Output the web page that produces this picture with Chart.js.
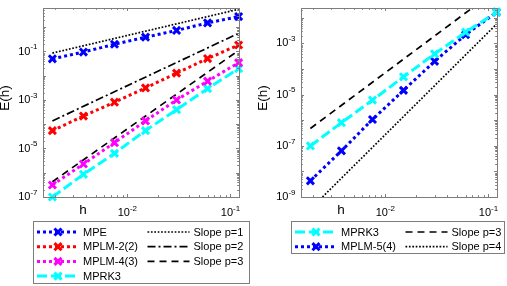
<!DOCTYPE html>
<html>
<head>
<meta charset="utf-8">
<script src="https://cdn.jsdelivr.net/npm/chart.js@4/dist/chart.umd.min.js"></script>
<style>
  body { margin: 0; background: #fff; }
  #wrap { position: relative; width: 507px; height: 286px; overflow: hidden; }
  canvas { position: absolute; top: 0; }
</style>
</head>
<body>
<div id="wrap">
  <canvas id="leftChart" width="253" height="286" style="left:0"></canvas>
  <canvas id="rightChart" width="254" height="286" style="left:253px"></canvas>
</div>
<script>
// step sizes h (same for both panels)
const hVals = [0.001875, 0.00375, 0.0075, 0.015, 0.03, 0.06, 0.12];
const hEnds = [0.001875, 0.12];

// left panel errors
const errMPE = [0.0497, 0.0946, 0.198, 0.387, 0.738, 1.5, 2.75];
const errMPLM22 = [5.45e-5, 2.17e-4, 8.1e-4, 3.13e-3, 0.0128, 0.051, 0.185];
const errMPLM43 = [3.13e-7, 2.29e-6, 1.74e-5, 1.37e-4, 1.0e-3, 5.97e-3, 0.0344];
const errMPRK3L = [1.0e-7, 8.6e-7, 6.3e-6, 5.45e-5, 3.98e-4, 2.94e-3, 0.0198];
// left panel reference slopes (values at hEnds)
const slopeL1 = [0.086, 5.5];
const slopeL2 = [1.37e-4, 0.561];
const slopeL3 = [4.25e-7, 0.111];

// right panel errors
const errMPRK3R = [9.9e-8, 8.0e-7, 6.1e-6, 4.98e-5, 3.9e-4, 2.75e-3, 0.0168];
const errMPLM54 = [4.3e-9, 6.4e-8, 1.07e-6, 1.47e-5, 2.0e-4, 2.19e-3, 0.0168];
const slopeR3 = [4.77e-7, 0.125];
const slopeR4 = [3.4e-10, 5.73e-3];

// tick labels (exponents of 10)
const xLabelExps = [-2, -1];
const yLabelExpsL = [-7, -5, -3, -1];
const yLabelExpsR = [-9, -7, -5, -3];

const FONT = '"Liberation Sans", Arial, Helvetica, sans-serif';
const AXIS_COLOR = 'rgb(125,125,125)';

function pts(xs, ys) {
  return xs.map((x, i) => ({ x: x, y: ys[i] }));
}

function series(label, xs, ys, color, dash) {
  return {
    label: label, data: pts(xs, ys),
    borderColor: color, backgroundColor: color,
    borderWidth: 3, borderDash: dash,
    pointStyle: 'crossRot', pointRadius: 5, pointBorderWidth: 3,
    pointBorderColor: color, clip: false
  };
}

function slope(label, ys, dash) {
  return {
    label: label, data: pts(hEnds, ys),
    borderColor: '#000', borderWidth: 1.7, borderDash: dash,
    pointRadius: 0
  };
}

function drawPow(ctx, exp, x, y, align) {
  ctx.font = '11px ' + FONT;
  const wb = ctx.measureText('10').width;
  ctx.font = '8px ' + FONT;
  const we = ctx.measureText(String(exp)).width;
  const total = wb + we;
  let sx = align === 'right' ? x - total : x - total / 2;
  ctx.textAlign = 'left';
  ctx.textBaseline = 'middle';
  ctx.fillStyle = '#000';
  ctx.font = '11px ' + FONT;
  ctx.fillText('10', sx, y);
  ctx.font = '8px ' + FONT;
  ctx.fillText(String(exp), sx + wb, y - 4.5);
}

// MATLAB-like box, inward ticks, labels and legend
const matlabAxes = {
  id: 'matlabAxes',
  afterDraw(chart, args, opts) {
    const ctx = chart.ctx;
    const a = chart.chartArea;
    const xs = chart.scales.x, ys = chart.scales.y;
    ctx.save();

    // ticks
    ctx.strokeStyle = AXIS_COLOR;
    ctx.lineWidth = 1;
    ctx.beginPath();
    const tickSet = (scale, fn) => {
      const e0 = Math.floor(Math.log10(scale.min)), e1 = Math.ceil(Math.log10(scale.max));
      for (let e = e0; e <= e1; e++) {
        for (let m = 1; m <= 9; m++) {
          const v = m * Math.pow(10, e);
          if (v < scale.min || v > scale.max) continue;
          fn(Math.round(scale.getPixelForValue(v)) + 0.5, m === 1 ? 3 : 1.8);
        }
      }
    };
    tickSet(xs, (px, len) => {
      ctx.moveTo(px, a.bottom); ctx.lineTo(px, a.bottom - len);
      ctx.moveTo(px, a.top); ctx.lineTo(px, a.top + len);
    });
    tickSet(ys, (py, len) => {
      ctx.moveTo(a.left, py); ctx.lineTo(a.left + len, py);
      ctx.moveTo(a.right, py); ctx.lineTo(a.right - len, py);
    });
    ctx.stroke();
    ctx.strokeRect(Math.round(a.left) + 0.5, Math.round(a.top) + 0.5,
      Math.round(a.right - a.left), Math.round(a.bottom - a.top));

    // tick labels
    opts.xExps.forEach(e => drawPow(ctx, '-' + Math.abs(e), xs.getPixelForValue(Math.pow(10, e)), a.bottom + 16, 'center'));
    opts.yExps.forEach(e => drawPow(ctx, '-' + Math.abs(e), a.left - 5.5, ys.getPixelForValue(Math.pow(10, e)), 'right'));

    // axis titles
    ctx.fillStyle = '#000';
    ctx.font = '13.5px ' + FONT;
    ctx.textAlign = 'center';
    ctx.textBaseline = 'middle';
    ctx.fillText('h', a.left + 40, a.bottom + 13);
    ctx.save();
    ctx.translate(a.left - 38, 98);
    ctx.rotate(-Math.PI / 2);
    ctx.fillText('E(h)', 0, 0);
    ctx.restore();

    // legend
    const lg = opts.legend;
    const items = chart.data.datasets;
    ctx.fillStyle = '#fff';
    ctx.fillRect(lg.x, lg.y, lg.w, lg.h);
    ctx.strokeStyle = AXIS_COLOR;
    ctx.lineWidth = 1;
    ctx.strokeRect(lg.x + 0.5, lg.y + 0.5, lg.w, lg.h);
    items.forEach((ds, i) => {
      const col = Math.floor(i / lg.rows), row = i % lg.rows;
      const x0 = lg.x + 4 + col * 110.5;
      const y0 = lg.y + 11 + row * 14.7;
      ctx.strokeStyle = ds.borderColor;
      ctx.lineWidth = ds.borderWidth;
      ctx.setLineDash(ds.borderDash || []);
      ctx.beginPath();
      ctx.moveTo(x0, y0); ctx.lineTo(x0 + 42, y0);
      ctx.stroke();
      ctx.setLineDash([]);
      if (ds.pointRadius > 0) {
        const r = ds.pointRadius * 0.707;
        const cx = x0 + 21;
        ctx.lineWidth = ds.pointBorderWidth;
        ctx.beginPath();
        ctx.moveTo(cx - r, y0 - r); ctx.lineTo(cx + r, y0 + r);
        ctx.moveTo(cx - r, y0 + r); ctx.lineTo(cx + r, y0 - r);
        ctx.stroke();
      }
      ctx.fillStyle = '#000';
      ctx.font = '11px ' + FONT;
      ctx.textAlign = 'left';
      ctx.textBaseline = 'middle';
      ctx.fillText(ds.label, x0 + 46, y0 + 0.5);
    });
    ctx.restore();
  }
};

function makeChart(id, datasets, xr, yr, yWidth, padRight, yExps, legend) {
  return new Chart(document.getElementById(id), {
    type: 'line',
    data: { datasets: datasets },
    options: {
      responsive: false,
      animation: false,
      devicePixelRatio: 1,
      layout: { padding: { left: 0, top: 2, right: padRight, bottom: 0 } },
      scales: {
        x: {
          type: 'logarithmic', min: xr[0], max: xr[1],
          ticks: { display: false }, grid: { display: false }, border: { display: false },
          afterFit: s => { s.height = 89; }
        },
        y: {
          type: 'logarithmic', min: yr[0], max: yr[1],
          ticks: { display: false }, grid: { display: false }, border: { display: false },
          afterFit: s => { s.width = yWidth; }
        }
      },
      plugins: {
        legend: { display: false },
        tooltip: { enabled: false },
        matlabAxes: { xExps: xLabelExps, yExps: yExps, legend: legend }
      }
    },
    plugins: [matlabAxes]
  });
}

makeChart('leftChart', [
  series('MPE', hVals, errMPE, '#0000ff', [3, 3]),
  series('MPLM-2(2)', hVals, errMPLM22, '#ff0000', [3, 3]),
  series('MPLM-4(3)', hVals, errMPLM43, '#ff00ff', [3, 3]),
  series('MPRK3', hVals, errMPRK3L, '#00ffff', [10, 4]),
  slope('Slope p=1', slopeL1, [1.7, 1.7]),
  slope('Slope p=2', slopeL2, [8, 3, 2, 3]),
  slope('Slope p=3', slopeL3, [7, 5])
], [1.52e-3, 0.121], [1e-7, 6.2], 43, 14, yLabelExpsL,
  { x: 33, y: 221, w: 216, h: 62, rows: 4 });

makeChart('rightChart', [
  series('MPRK3', hVals, errMPRK3R, '#00ffff', [10, 4]),
  series('MPLM-5(4)', hVals, errMPLM54, '#0000ff', [3, 3]),
  slope('Slope p=3', slopeR3, [7, 5]),
  slope('Slope p=4', slopeR4, [1.7, 1.7])
], [1.52e-3, 0.121], [1e-9, 0.0243], 48, 10, yLabelExpsR,
  { x: 38, y: 221, w: 213, h: 32, rows: 2 });
</script>
</body>
</html>
